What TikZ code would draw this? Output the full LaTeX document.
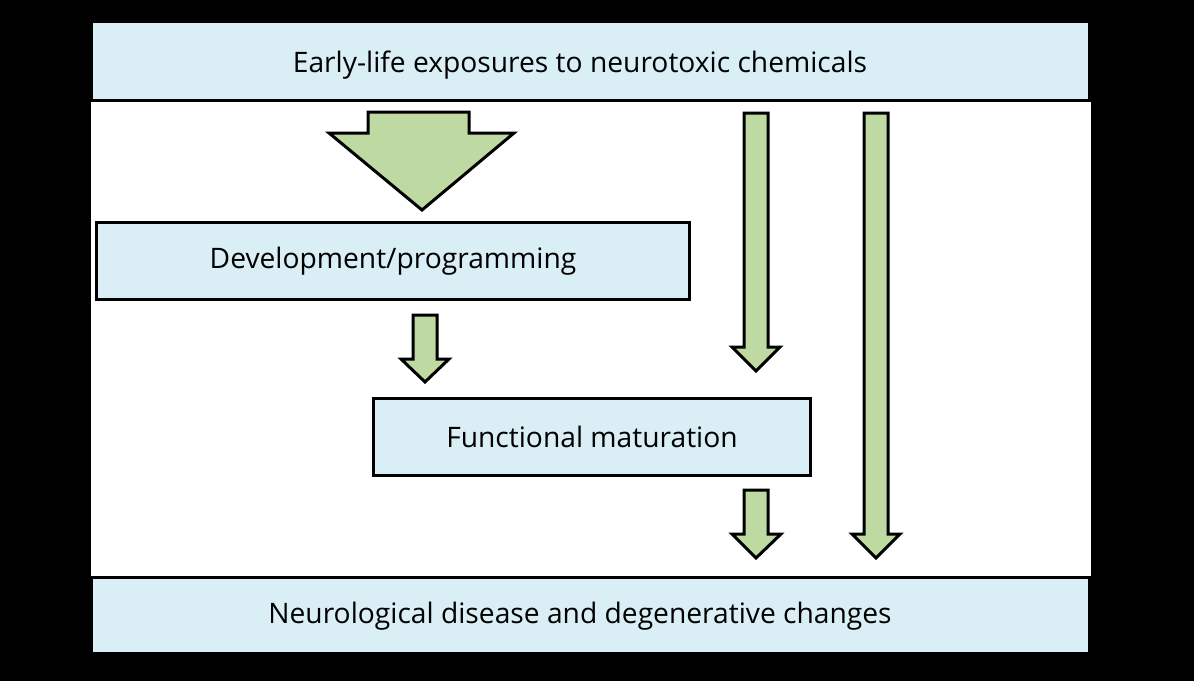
\documentclass[tikz,border=0pt]{standalone}
\usepackage{fontspec}
\setmainfont{Open Sans}
\definecolor{boxblue}{RGB}{217,238,245}
\definecolor{arrowgreen}{RGB}{190,218,162}
\begin{document}
\begin{tikzpicture}[x=1pt,y=-1pt,
  panel/.style={draw=none,fill=boxblue,inner sep=0pt,anchor=north west},
  stagebox/.style={draw=black,line width=3pt,fill=boxblue,inner sep=0pt,anchor=north west},
  blockarrow/.style={draw=black,line width=3pt,fill=arrowgreen,line join=miter},
  lbl/.style={font=\fontsize{28.2}{33}\selectfont,inner sep=0pt}]
\useasboundingbox (0,0) rectangle (1194,681);
\fill[black] (0,0) rectangle (1194,681);
\fill[white] (91,102) rectangle (1091,576);
% top and bottom panels
\node[panel,minimum width=995pt,minimum height=76pt] (top) at (93,23) {};
\node[lbl] (toptxt) at (580,65) {Early-life exposures to neurotoxic chemicals};
\node[panel,minimum width=995pt,minimum height=73pt] (bot) at (93,579) {};
\node[lbl] (bottxt) at (580,616) {Neurological disease and degenerative changes};
% stage boxes
\node[stagebox,minimum width=593pt,minimum height=77pt] (dev) at (95,221) {};
\node[lbl] (devtxt) at (393,261) {Development/programming};
\node[stagebox,minimum width=437pt,minimum height=77pt] (func) at (372,397) {};
\node[lbl] (functxt) at (592,436.5) {Functional maturation};
% big arrow
\draw[blockarrow] (368,112) -- (469,112) -- (469,133) -- (514,133) -- (422,210) -- (329,133) -- (368,133) -- cycle;
% small arrow dev -> func
\draw[blockarrow] (413,315) -- (437,315) -- (437,359) -- (449,359) -- (425,382) -- (401,359) -- (413,359) -- cycle;
% right arrow to func level
\draw[blockarrow] (744,113) -- (768,113) -- (768,347) -- (780,347) -- (756,371) -- (732,347) -- (744,347) -- cycle;
% arrow func -> bottom
\draw[blockarrow] (744,490) -- (768,490) -- (768,534) -- (781,534) -- (756,558) -- (732,534) -- (744,534) -- cycle;
% long arrow top -> bottom
\draw[blockarrow] (864,113) -- (888,113) -- (888,534) -- (900,534) -- (876,558) -- (852,534) -- (864,534) -- cycle;
\end{tikzpicture}
\end{document}
